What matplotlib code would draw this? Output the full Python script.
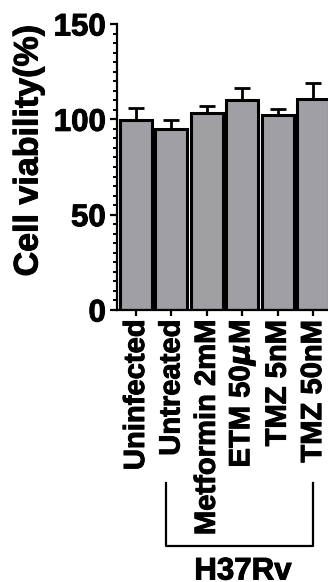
import matplotlib
matplotlib.use('Agg')
import matplotlib.pyplot as plt
import matplotlib.ticker as ticker
import matplotlib.patheffects as pe
from matplotlib.lines import Line2D

plt.rcParams['font.family'] = ['Liberation Sans', 'DejaVu Sans']
plt.rcParams['font.weight'] = 'bold'
plt.rcParams['mathtext.fontset'] = 'dejavusans'

groups = ['Uninfected', 'Untreated', 'Metformin 2mM', r'ETM 50$\mu$M', 'TMZ 5nM', 'TMZ 50nM']
viability = [99.6, 95.1, 103.3, 110.0, 102.3, 110.6]
sd = [6.4, 4.5, 3.7, 6.4, 3.3, 8.3]
bracket_label = 'H37Rv'

# slightly heavier strokes on all the lettering
heavy = [pe.withStroke(linewidth=0.7, foreground='black')]

W, H = 328, 582
fig = plt.figure(figsize=(W / 100, H / 100), dpi=100)
ax = fig.add_axes([117 / W, 272 / H, 6.04 * 35.4 / W, 286 / H])

x = list(range(len(groups)))
ax.bar(x, viability, width=0.9, color='#a0a0a4', edgecolor='black', linewidth=2.2, zorder=2)
ax.errorbar(x, viability, yerr=[[0] * len(sd), sd], fmt='none', ecolor='black',
            elinewidth=2, capsize=6, capthick=2, zorder=1)

ax.set_xlim(-0.537, 5.5)
ax.set_ylim(0, 150)
ax.yaxis.set_major_locator(ticker.MultipleLocator(50))
ax.yaxis.set_minor_locator(ticker.MultipleLocator(5))
ax.set_xticks(x)
ax.set_xticklabels(groups, rotation=90, fontsize=21, fontweight='bold', va='top', ha='center')
for lab in ax.get_xticklabels():
    lab.set_path_effects(heavy)
for lab in ax.get_yticklabels():
    lab.set_fontsize(22.5)
    lab.set_fontweight('bold')
    lab.set_path_effects(heavy)

for side in ['top', 'right']:
    ax.spines[side].set_visible(False)
ax.spines['left'].set_linewidth(1.6)
ax.spines['bottom'].set_linewidth(1.6)
ax.tick_params(axis='y', which='major', length=5, width=1.6, pad=3)
ax.tick_params(axis='y', which='minor', length=3, width=1.4)
ax.tick_params(axis='x', which='major', length=4, width=1.6, pad=3)

fig.text(29 / W, 1 - 151 / H, 'Cell viability(%)', rotation=90, fontsize=24.5,
         fontweight='bold', ha='center', va='center', path_effects=heavy)

# bracket grouping the infected samples
bx0, bx1, by0, by1 = 166 / W, 313 / W, 1 - 483 / H, 1 - 546 / H
fig.add_artist(Line2D([bx0, bx0, bx1, bx1], [by0, by1, by1, by0],
                      transform=fig.transFigure, color='black', lw=1.6))
fig.text(243 / W, 2.5 / H, bracket_label, fontsize=22.5, fontweight='bold',
         ha='center', va='baseline', path_effects=heavy)

fig.savefig('out.png', dpi=100)
